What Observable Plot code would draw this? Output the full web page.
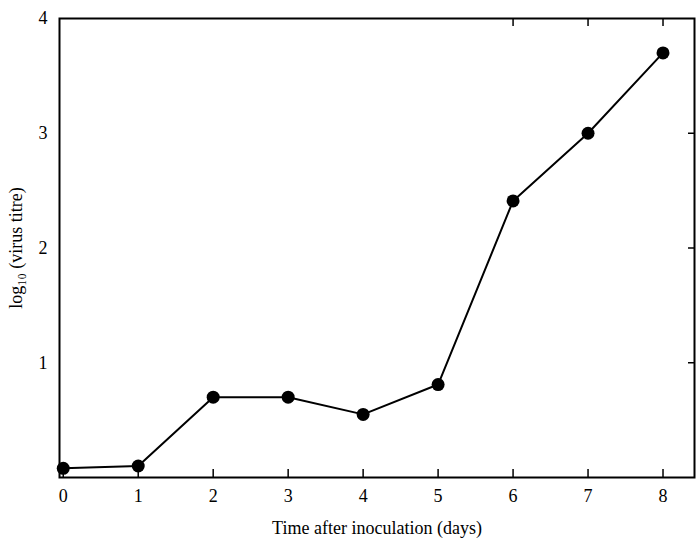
<!DOCTYPE html>
<html><head>
<script src="https://cdn.jsdelivr.net/npm/d3@7"></script>
<script src="https://cdn.jsdelivr.net/npm/@observablehq/plot@0.6"></script>
<style>body{margin:0;background:#fff}</style>
</head><body><div id="c"></div>
<script>
const days = [0,1,2,3,4,5,6,7,8];
const titre = [0.08,0.1,0.7,0.7,0.55,0.81,2.41,3.0,3.7];
const xTicks = [0,1,2,3,4,5,6,7,8];
const yTicks = [1,2,3,4];
const data = days.map((d,i)=>({d, v:titre[i]}));
const chart = Plot.plot({
  width:697, height:540, marginLeft:59, marginTop:18, marginRight:3, marginBottom:63,
  style:{fontFamily:"Liberation Serif", fontSize:"18px", color:"#000"},
  x:{domain:[-0.05,8.42]},
  y:{domain:[0,4]},
  marks:[
    Plot.frame({strokeWidth:2}),
    Plot.ruleX(xTicks,{y1:0,y2:0.07,strokeWidth:1.5}),
    Plot.ruleX([6,7,8],{y1:3.93,y2:4,strokeWidth:1.5}),
    Plot.ruleY([1,2,3],{x1:8.34,x2:8.42,strokeWidth:1.5}),
    Plot.axisX({ticks:xTicks, tickSize:0, tickPadding:12, tickFormat:"d", label:"Time after inoculation (days)", labelAnchor:"center", labelOffset:56, labelArrow:"none"}),
    Plot.axisY({ticks:yTicks, tickSize:0, tickPadding:12, tickFormat:"d", label:"log₁₀ (virus titre)", labelAnchor:"center", labelOffset:50, labelArrow:"none"}),
    Plot.line(data,{x:"d",y:"v",stroke:"#000",strokeWidth:2}),
    Plot.dot(data,{x:"d",y:"v",r:6.5,fill:"#000"})
  ]
});
document.getElementById("c").append(chart);
</script></body></html>
